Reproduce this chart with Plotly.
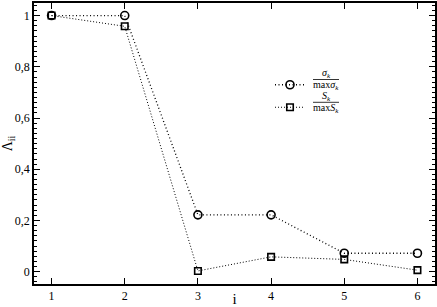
import plotly.graph_objects as go

i_vals = [1, 2, 3, 4, 5, 6]
sigma_ratio = [1.0, 1.0, 0.222, 0.222, 0.072, 0.072]
s_ratio = [1.0, 0.958, 0.003, 0.058, 0.048, 0.006]

W, H = 437, 307
L, R, T, B = 34, 2, 3, 23
pw, ph = W - L - R, H - T - B

def px(x):
    return (x - L) / pw

def py(y):
    return (H - B - y) / ph

fig = go.Figure()
fig.add_trace(go.Scatter(
    x=i_vals, y=sigma_ratio, mode="lines+markers", name=" ",
    line=dict(color="black", width=1.3, dash="1px,2.5px"),
    marker=dict(symbol="circle-open", size=8, color="black", line=dict(width=1.6)),
))
fig.add_trace(go.Scatter(
    x=i_vals, y=s_ratio, mode="lines+markers", name=" ",
    line=dict(color="black", width=1.0, dash="1px,2px"),
    marker=dict(symbol="square-open", size=6.5, color="black", line=dict(width=1.6)),
))

font_serif = "Liberation Serif"
axis_common = dict(
    showline=True, linecolor="black", linewidth=1.5, mirror="allticks",
    ticks="inside", tickcolor="black", showgrid=False, zeroline=False,
    automargin=False,
    tickfont=dict(family=font_serif, size=12, color="black"),
)
fig.update_xaxes(
    range=[0.76, 6.24], tickvals=i_vals, ticklen=6, tickwidth=1.2,
    title=dict(text="i", font=dict(family=font_serif, size=15, color="black"), standoff=3),
    **axis_common,
)
fig.update_yaxes(
    range=[-0.048, 1.049], tickvals=[0, 0.2, 0.4, 0.6, 0.8, 1], ticklen=6, tickwidth=1.2,
    minor=dict(dtick=0.02, ticks="inside", ticklen=3, tickcolor="black", tickwidth=1),
    title=dict(text="Λ<sub>ii</sub>", font=dict(family=font_serif, size=14, color="black"), standoff=4),
    **axis_common,
)

ann_font = dict(family=font_serif, size=10, color="black")
cx = px(326)
annotations = [
    dict(x=cx, y=py(73.5), text="<i>σ</i><sub><i>k</i></sub>"),
    dict(x=cx, y=py(85.5), text="max<i>σ</i><sub><i>k</i></sub>"),
    dict(x=cx, y=py(96.5), text="<i>S</i><sub><i>k</i></sub>"),
    dict(x=cx, y=py(108.5), text="max<i>S</i><sub><i>k</i></sub>"),
]
for a in annotations:
    a.update(xref="paper", yref="paper", showarrow=False, xanchor="center", yanchor="middle",
             font=ann_font, borderpad=0)

shapes = [
    dict(type="line", xref="paper", yref="paper", x0=px(313), x1=px(339), y0=py(79.5), y1=py(79.5),
         line=dict(color="black", width=0.8)),
    dict(type="line", xref="paper", yref="paper", x0=px(313), x1=px(339), y0=py(102.3), y1=py(102.3),
         line=dict(color="black", width=0.8)),
]

fig.update_layout(
    width=W, height=H,
    margin=dict(l=L, r=R, t=T, b=B),
    paper_bgcolor="white", plot_bgcolor="white",
    separators=",.",
    showlegend=True,
    legend=dict(x=px(270), y=py(68.5), xanchor="left", yanchor="top",
                bgcolor="rgba(0,0,0,0)", font=dict(family=font_serif, size=15),
                itemwidth=30, tracegroupgap=0),
    annotations=annotations, shapes=shapes,
)

fig.write_html("out.html")
